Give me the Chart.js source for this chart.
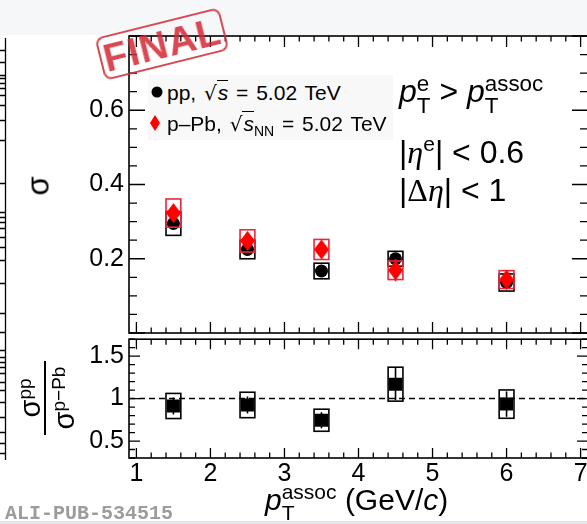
<!DOCTYPE html>
<html lang="en">
<head>
<meta charset="UTF-8">
<title>Correlation width sigma vs associated pT</title>
<script src="https://cdn.jsdelivr.net/npm/chart.js"></script>
<style>
  html, body { margin: 0; padding: 0; overflow: hidden; }
  body { width: 587px; height: 524px; position: relative; background: #fff; font-family: 'Liberation Sans', Arial, sans-serif; color: #000; }
  .abs { position: absolute; white-space: nowrap; }
  canvas { position: absolute; left: 0; }
  #band { left: 0; top: 0; width: 587px; height: 35px; background: #f6f7f9; }
  #foot { left: 0; top: 521px; width: 587px; height: 3px; background: #e4e6ea; }
  .ss { display: inline-block; font-size: 0.7em; line-height: 1; vertical-align: -0.5em; text-align: left; }
  .ss > span { display: block; }
  .gr { font-family: 'Liberation Serif', serif; font-style: italic; }
  .rad { font-family: 'DejaVu Sans', sans-serif; font-size: 0.95em; }
  .ov { border-top: 1.3px solid #000; font-style: italic; padding-left: 1px; }
  #legendBox { left: 148px; top: 75px; width: 245px; height: 65px; background: #f8f8f8; }
  .leg { font-size: 21px; line-height: 20px; word-spacing: 2px; }
  .ann { font-size: 32px; line-height: 30px; }
  #stamp { left: 98px; top: 22px; width: 124px; height: 40px; border: 2.5px solid #d42a36; border-radius: 8px;
           transform: rotate(-14deg); color: #d42a36; font: bold 39px 'Liberation Sans', sans-serif;
           text-align: center; line-height: 41px; letter-spacing: 1px; opacity: 0.85; }
  #frac { left: 7px; top: 361px; width: 80px; height: 74px; transform: rotate(-90deg); text-align: center; font-size: 29px; }
  #frac .num { height: 34px; line-height: 40px; border-bottom: 2px solid #000; margin: 0 3px; }
  #frac .den { line-height: 36px; }
  #frac sup { font-size: 19px; vertical-align: 0.45em; line-height: 0; }
  #xtitle { left: 265px; top: 481px; font-size: 30px; line-height: 30px; }
  #alipub { left: 5px; top: 502px; font: bold 20px 'Liberation Mono', monospace; color: #9c9c9c; }
</style>
</head>
<body>
<div id="band" class="abs"></div>
<div id="foot" class="abs"></div>
<canvas id="edge" width="12" height="524" style="top:0"></canvas>
<canvas id="sigmaChart" width="600" height="340" style="top:0"></canvas>
<canvas id="ratioChart" width="600" height="194" style="top:330px"></canvas>

<div id="legendBox" class="abs"></div>
<svg class="abs" style="left:150px; top:85px" width="14" height="48">
  <circle cx="7" cy="7" r="5.5" fill="#000"/>
  <polygon points="5,31 10,39 5,47 0,39" fill="#f00" transform="translate(0,-1)"/>
</svg>
<div class="abs leg" style="left:167px; top:83px">pp, <span class="rad">√</span><span class="ov">s</span> = 5.02 TeV</div>
<div class="abs leg" style="left:167px; top:114px">p–Pb, <span class="rad">√</span><span class="ov">s</span><sub style="font-size:14px">NN</sub> = 5.02 TeV</div>

<div class="abs ann" style="left:399px; top:73px"><i>p</i><span class="ss"><span>e</span><span>T</span></span> &gt; <i>p</i><span class="ss"><span>assoc</span><span>T</span></span></div>
<div class="abs ann" style="left:399px; top:129px">|<span class="gr">η</span><sup style="font-size:21px">e</sup>| &lt; 0.6</div>
<div class="abs ann" style="left:399px; top:175px">|<span style="font-family:'Liberation Serif',serif">Δ</span><span class="gr">η</span>| &lt; 1</div>

<div class="abs" style="left:29px; top:168px; font-size:31px; transform: rotate(-90deg)">σ</div>
<div id="frac" class="abs">
  <div class="num">σ<sup>pp</sup></div>
  <div class="den">σ<sup>p−Pb</sup></div>
</div>
<div id="xtitle" class="abs"><i>p</i><span class="ss"><span>assoc</span><span>T</span></span> (GeV/<i>c</i>)</div>
<div id="alipub" class="abs">ALI-PUB-534515</div>
<div id="stamp" class="abs">FINAL</div>

<script>
// associated-particle pT bins (GeV/c)
const ptAssoc = [1.5, 2.5, 3.5, 4.5, 6.0];

// near-side width sigma, pp 5.02 TeV
const sigmaPP     = [0.295, 0.225, 0.167, 0.200, 0.136];
const sigmaPPStat = [0.010, 0.010, 0.010, 0.015, 0.012];
const sigmaPPSys  = [0.032, 0.025, 0.021, 0.020, 0.023];

// near-side width sigma, p-Pb 5.02 TeV
const sigmaPPb     = [0.323, 0.248, 0.225, 0.169, 0.144];
const sigmaPPbStat = [0.015, 0.015, 0.015, 0.030, 0.020];
const sigmaPPbSys  = [0.038, 0.030, 0.027, 0.025, 0.024];

// ratio pp / p-Pb
const ratio     = [0.913, 0.925, 0.745, 1.170, 0.935];
const ratioStat = [0.100, 0.100, 0.095, 0.190, 0.150];
const ratioSys  = [0.148, 0.150, 0.130, 0.200, 0.167];

// axis ranges and labelled ticks
const xRange = [0.9, 7.1];
const xTickLabels = [1, 2, 3, 4, 5, 6, 7];
const sigmaRange = [0, 0.8];
const sigmaTickLabels = [0.2, 0.4, 0.6];
const ratioRange = [0.3, 1.7];
const ratioTickLabels = [0.5, 1, 1.5];

const BOX_HALF_WIDTH = 0.1;
const AXIS_LEFT = 129;
const labelFont = { family: "'Liberation Sans', Arial, sans-serif", size: 25 };

function points(ys) {
  return ptAssoc.map((x, i) => ({ x: x, y: ys[i] }));
}

// thin, tall diamond marker
function diamond(w, h, color) {
  const c = document.createElement('canvas');
  c.width = w; c.height = h;
  const g = c.getContext('2d');
  g.fillStyle = color;
  g.beginPath();
  g.moveTo(w / 2, 0); g.lineTo(w, h / 2); g.lineTo(w / 2, h); g.lineTo(0, h / 2);
  g.closePath();
  g.fill();
  return c;
}

// systematic boxes + statistical bars, drawn just before each dataset's markers
const errorBars = {
  id: 'errorBars',
  beforeDatasetDraw(chart, args) {
    const ds = chart.data.datasets[args.index];
    if (!ds.sys) return;
    const { ctx, scales: { x, y } } = chart;
    ctx.save();
    ctx.strokeStyle = ds.boxColor;
    ctx.lineWidth = 1.6;
    ds.data.forEach((p, i) => {
      const x0 = x.getPixelForValue(p.x - BOX_HALF_WIDTH);
      const x1 = x.getPixelForValue(p.x + BOX_HALF_WIDTH);
      const y0 = y.getPixelForValue(p.y + ds.sys[i]);
      const y1 = y.getPixelForValue(p.y - ds.sys[i]);
      ctx.strokeRect(x0, y0, x1 - x0, y1 - y0);
      const xc = x.getPixelForValue(p.x);
      ctx.beginPath();
      ctx.moveTo(xc, y.getPixelForValue(p.y + ds.stat[i]));
      ctx.lineTo(xc, y.getPixelForValue(p.y - ds.stat[i]));
      ctx.stroke();
    });
    ctx.restore();
  }
};

// ROOT-like frame with inward ticks on all four sides
const frameTicks = {
  id: 'frameTicks',
  afterDraw(chart, args, o) {
    const { ctx, chartArea: a, scales: { x, y } } = chart;
    ctx.save();
    ctx.strokeStyle = '#000';
    ctx.lineWidth = 1.6;
    ctx.strokeRect(a.left, a.top, a.right - a.left, a.bottom - a.top);
    ctx.lineWidth = 1.3;
    ctx.beginPath();
    const each = (scale, step, major, fn) => {
      for (let n = Math.ceil(scale.min / step - 1e-6); n * step <= scale.max + 1e-6; n++) {
        const v = n * step;
        const r = v / major;
        fn(scale.getPixelForValue(v), Math.abs(r - Math.round(r)) < 1e-6);
      }
    };
    each(x, o.xStep, o.xMajor, (px, isMajor) => {
      const len = isMajor ? o.xMajorLen : o.xMinorLen;
      ctx.moveTo(px, a.bottom); ctx.lineTo(px, a.bottom - len);
      ctx.moveTo(px, a.top); ctx.lineTo(px, a.top + len);
    });
    each(y, o.yStep, o.yMajor, (py, isMajor) => {
      const len = isMajor ? o.yMajorLen : o.yMinorLen;
      ctx.moveTo(a.left, py); ctx.lineTo(a.left + len, py);
      ctx.moveTo(a.right, py); ctx.lineTo(a.right - len, py);
    });
    ctx.stroke();
    ctx.restore();
  }
};

function yAxis(range, labels) {
  return {
    type: 'linear',
    min: range[0],
    max: range[1],
    afterFit: s => { s.width = AXIS_LEFT; s.paddingTop = 0; s.paddingBottom = 0; },
    afterBuildTicks: s => { s.ticks = labels.map(v => ({ value: v })); },
    grid: { display: false, drawTicks: false },
    border: { display: false },
    ticks: { color: '#000', font: labelFont, padding: 5, callback: v => String(v) }
  };
}

new Chart(document.getElementById('sigmaChart'), {
  type: 'scatter',
  data: {
    datasets: [
      {
        label: 'p–Pb, √sNN = 5.02 TeV',
        data: points(sigmaPPb),
        stat: sigmaPPbStat,
        sys: sigmaPPbSys,
        boxColor: '#e8283c',
        pointStyle: diamond(15, 20, '#ff0000'),
        order: 0
      },
      {
        label: 'pp, √s = 5.02 TeV',
        data: points(sigmaPP),
        stat: sigmaPPStat,
        sys: sigmaPPSys,
        boxColor: '#000',
        pointStyle: 'circle',
        pointRadius: 6.5,
        backgroundColor: '#000',
        borderWidth: 0,
        order: 1
      }
    ]
  },
  options: {
    responsive: false,
    animation: false,
    events: [],
    layout: { padding: { top: 36, right: 12, bottom: 7, left: 0 } },
    scales: {
      x: { type: 'linear', min: xRange[0], max: xRange[1], display: false },
      y: yAxis(sigmaRange, sigmaTickLabels)
    },
    plugins: {
      legend: { display: false },
      tooltip: { enabled: false },
      frameTicks: { xStep: 0.2, xMajor: 1, xMajorLen: 11, xMinorLen: 5.5,
                    yStep: 0.05, yMajor: 0.2, yMajorLen: 16, yMinorLen: 8 }
    }
  },
  plugins: [errorBars, frameTicks]
});

new Chart(document.getElementById('ratioChart'), {
  type: 'scatter',
  data: {
    datasets: [
      {
        label: 'pp / p–Pb',
        data: points(ratio),
        stat: ratioStat,
        sys: ratioSys,
        boxColor: '#000',
        pointStyle: 'rect',
        pointRadius: 9.2,
        backgroundColor: '#000',
        borderWidth: 0,
        order: 0
      },
      {
        type: 'line',
        label: 'unity',
        data: [{ x: xRange[0], y: 1 }, { x: xRange[1], y: 1 }],
        borderColor: '#000',
        borderWidth: 1.5,
        borderDash: [6, 4],
        pointRadius: 0,
        order: 1
      }
    ]
  },
  options: {
    responsive: false,
    animation: false,
    events: [],
    layout: { padding: { top: 4, right: 12, bottom: 0, left: 0 } },
    scales: {
      x: {
        type: 'linear',
        min: xRange[0],
        max: xRange[1],
        afterFit: s => { s.height = 66; s.paddingLeft = 0; s.paddingRight = 0; },
        afterBuildTicks: s => { s.ticks = xTickLabels.map(v => ({ value: v })); },
        grid: { display: false, drawTicks: false },
        border: { display: false },
        ticks: { color: '#000', font: labelFont, padding: 1, maxRotation: 0 }
      },
      y: yAxis(ratioRange, ratioTickLabels)
    },
    plugins: {
      legend: { display: false },
      tooltip: { enabled: false },
      frameTicks: { xStep: 0.2, xMajor: 1, xMajorLen: 10, xMinorLen: 5.5,
                    yStep: 0.1, yMajor: 0.5, yMajorLen: 11, yMinorLen: 6 }
    }
  },
  plugins: [errorBars, frameTicks]
});

// right edge of the neighbouring panel, cut off at the page border
(function () {
  const g = document.getElementById('edge').getContext('2d');
  const tickY = [50, 62, 75, 78, 83, 88, 95, 105, 120, 140, 183, 212, 217, 222, 228, 237, 247, 260, 283, 313,
                 332, 350, 357, 362, 367, 373, 382, 390, 402, 417, 432, 443, 453];
  g.strokeStyle = '#000';
  g.lineWidth = 1.3;
  g.beginPath();
  g.moveTo(5.5, 38); g.lineTo(5.5, 460);
  tickY.forEach(t => { g.moveTo(0, t + 0.5); g.lineTo(6, t + 0.5); });
  g.stroke();
})();
</script>
</body>
</html>
